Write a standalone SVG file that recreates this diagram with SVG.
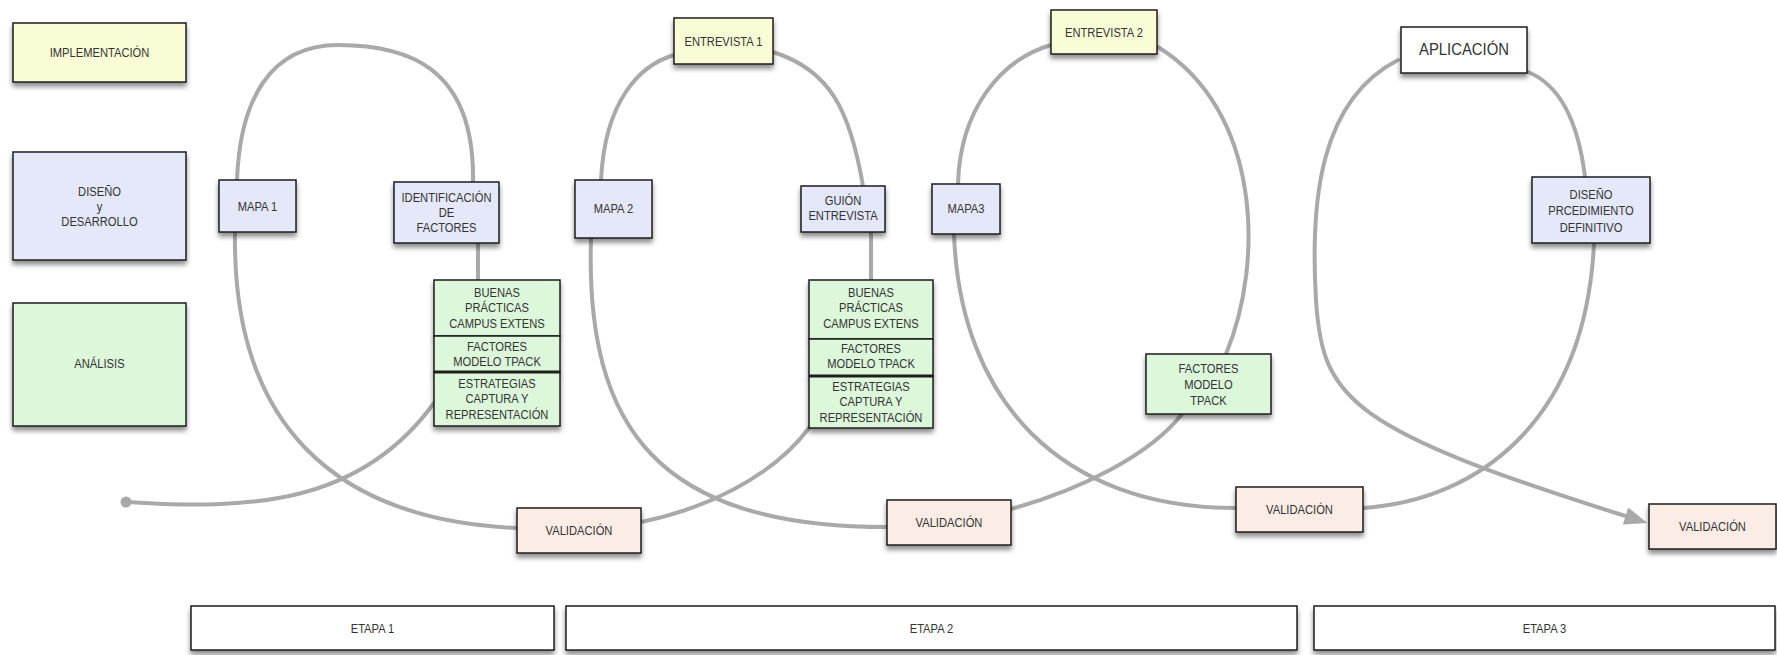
<svg xmlns="http://www.w3.org/2000/svg" width="1777" height="655" viewBox="0 0 1777 655">
  <defs>
    <style>
      .box { stroke: #1e1e1e; stroke-width: 1.5; filter: url(#shadow); }
      .yel { fill: #fafcd6; }
      .lav { fill: #e5e7fa; }
      .grn { fill: #ddf7db; }
      .pch { fill: #fbece5; }
      .wht { fill: #ffffff; }
      .sep { stroke: #1e1e1e; stroke-width: 3; }
      text { font-family: "Liberation Sans", Arial, sans-serif; font-size: 13px; fill: #333333; text-anchor: middle;
             transform-box: fill-box; transform-origin: center; transform: scaleX(0.86); }
      .big { font-size: 16px; transform: scaleX(0.93); }
      .link { fill: none; stroke: #a9a9a9; stroke-width: 4; stroke-linecap: round; }
    </style>
    <filter id="shadow" x="-10%" y="-10%" width="120%" height="150%">
      <feDropShadow dx="0" dy="4" stdDeviation="2.5" flood-color="#000000" flood-opacity="0.45"/>
    </filter>
    <marker id="arrow" markerUnits="userSpaceOnUse" markerWidth="26" markerHeight="20" refX="10" refY="9" orient="auto">
      <path d="M0,0 L23,9 L0,18 z" fill="#a9a9a9"/>
    </marker>
  </defs>

  <rect width="1777" height="655" fill="#ffffff"/>

  <!-- flow lines -->
  <g id="connectors">
    <circle cx="126" cy="502" r="5.5" fill="#a9a9a9"/>
    <path class="link" d="M126,502 C250,510 360,505 434,403"/>
    <path class="link" d="M478,280 L478,243"/>
    <path class="link" d="M473,182 C475,65 405,45 338,45 C270,45 240,100 237,180"/>
    <path class="link" d="M235,232 C232,420 330,520 517,528"/>
    <path class="link" d="M641,522 C700,510 770,480 809,428"/>
    <path class="link" d="M871,280 L871,232"/>
    <path class="link" d="M863,186 C850,110 830,70 773,52"/>
    <path class="link" d="M674,55 C640,65 605,100 601,180"/>
    <path class="link" d="M591,238 C585,430 660,527 887,527"/>
    <path class="link" d="M1011,509 C1080,490 1150,455 1182,414"/>
    <path class="link" d="M1226,354 C1265,260 1260,110 1158,47"/>
    <path class="link" d="M1051,45 C1000,60 960,110 958,184"/>
    <path class="link" d="M954,234 C960,400 1060,508 1236,508"/>
    <path class="link" d="M1363,508 C1480,500 1585,420 1594,244"/>
    <path class="link" d="M1585,177 C1578,120 1560,85 1528,72"/>
    <path class="link" d="M1398,60 C1320,100 1310,200 1316,300 C1322,400 1350,430 1635,519" marker-end="url(#arrow)"/>
  </g>

  <!-- row labels -->
  <g id="implementacion">
    <rect class="box yel" x="13" y="23" width="173" height="59"/>
    <text x="99.5" y="57">IMPLEMENTACIÓN</text>
  </g>
  <g id="diseno-desarrollo">
    <rect class="box lav" x="13" y="152" width="173" height="108"/>
    <text x="99.5" y="196"><tspan x="99.5">DISEÑO</tspan><tspan x="99.5" dy="15">y</tspan><tspan x="99.5" dy="15">DESARROLLO</tspan></text>
  </g>
  <g id="analisis">
    <rect class="box grn" x="13" y="303" width="173" height="123"/>
    <text x="99.5" y="368">ANÁLISIS</text>
  </g>

  <!-- stage 1 -->
  <g id="mapa1">
    <rect class="box lav" x="219" y="180" width="77" height="52"/>
    <text x="257.5" y="211">MAPA 1</text>
  </g>
  <g id="identificacion">
    <rect class="box lav" x="394" y="182" width="105" height="61"/>
    <text x="446.5" y="202"><tspan x="446.5">IDENTIFICACIÓN</tspan><tspan x="446.5" dy="15">DE</tspan><tspan x="446.5" dy="15">FACTORES</tspan></text>
  </g>
  <g id="analisis-1">
    <rect class="box grn" x="434" y="280" width="126" height="56"/>
    <text x="497" y="297"><tspan x="497">BUENAS</tspan><tspan x="497" dy="15.5">PRÁCTICAS</tspan><tspan x="497" dy="15.5">CAMPUS EXTENS</tspan></text>
    <rect class="box grn" x="434" y="336" width="126" height="36"/>
    <text x="497" y="351"><tspan x="497">FACTORES</tspan><tspan x="497" dy="15.5">MODELO TPACK</tspan></text>
    <rect class="box grn" x="434" y="372" width="126" height="54"/>
    <line class="sep" x1="434" y1="372" x2="560" y2="372"/>
    <text x="497" y="388"><tspan x="497">ESTRATEGIAS</tspan><tspan x="497" dy="15.5">CAPTURA Y</tspan><tspan x="497" dy="15.5">REPRESENTACIÓN</tspan></text>
  </g>
  <g id="validacion-1">
    <rect class="box pch" x="517" y="508" width="124" height="45"/>
    <text x="579" y="535">VALIDACIÓN</text>
  </g>

  <!-- stage 2 -->
  <g id="mapa2">
    <rect class="box lav" x="575" y="180" width="77" height="58"/>
    <text x="613.5" y="213">MAPA 2</text>
  </g>
  <g id="entrevista1">
    <rect class="box yel" x="674" y="18" width="99" height="46"/>
    <text x="723.5" y="46">ENTREVISTA 1</text>
  </g>
  <g id="guion">
    <rect class="box lav" x="801" y="186" width="84" height="46"/>
    <text x="843" y="205"><tspan x="843">GUIÓN</tspan><tspan x="843" dy="15.5">ENTREVISTA</tspan></text>
  </g>
  <g id="analisis-2">
    <rect class="box grn" x="809" y="280" width="124" height="59"/>
    <text x="871" y="297"><tspan x="871">BUENAS</tspan><tspan x="871" dy="15.5">PRÁCTICAS</tspan><tspan x="871" dy="15.5">CAMPUS EXTENS</tspan></text>
    <rect class="box grn" x="809" y="339" width="124" height="37"/>
    <text x="871" y="353"><tspan x="871">FACTORES</tspan><tspan x="871" dy="15.5">MODELO TPACK</tspan></text>
    <rect class="box grn" x="809" y="376" width="124" height="52"/>
    <line class="sep" x1="809" y1="376" x2="933" y2="376"/>
    <text x="871" y="391"><tspan x="871">ESTRATEGIAS</tspan><tspan x="871" dy="15.5">CAPTURA Y</tspan><tspan x="871" dy="15.5">REPRESENTACIÓN</tspan></text>
  </g>
  <g id="validacion-2">
    <rect class="box pch" x="887" y="500" width="124" height="45"/>
    <text x="949" y="527">VALIDACIÓN</text>
  </g>
  <g id="mapa3">
    <rect class="box lav" x="932" y="184" width="68" height="50"/>
    <text x="966" y="213">MAPA3</text>
  </g>
  <g id="entrevista2">
    <rect class="box yel" x="1051" y="10" width="106" height="44"/>
    <text x="1104" y="37">ENTREVISTA 2</text>
  </g>
  <g id="factores-tpack">
    <rect class="box grn" x="1146" y="354" width="125" height="60"/>
    <text x="1208.5" y="373"><tspan x="1208.5">FACTORES</tspan><tspan x="1208.5" dy="16">MODELO</tspan><tspan x="1208.5" dy="16">TPACK</tspan></text>
  </g>
  <g id="validacion-3">
    <rect class="box pch" x="1236" y="487" width="127" height="45"/>
    <text x="1299.5" y="514">VALIDACIÓN</text>
  </g>

  <!-- stage 3 -->
  <g id="aplicacion">
    <rect class="box wht" x="1401" y="27" width="126" height="46"/>
    <text class="big" x="1464" y="55">APLICACIÓN</text>
  </g>
  <g id="diseno-procedimiento">
    <rect class="box lav" x="1532" y="177" width="118" height="66"/>
    <text x="1591" y="199"><tspan x="1591">DISEÑO</tspan><tspan x="1591" dy="16.5">PRCEDIMIENTO</tspan><tspan x="1591" dy="16.5">DEFINITIVO</tspan></text>
  </g>
  <g id="validacion-final">
    <rect class="box pch" x="1649" y="504" width="127" height="45"/>
    <text x="1712.5" y="531">VALIDACIÓN</text>
  </g>

  <!-- stage bar -->
  <g id="etapa1">
    <rect class="box wht" x="191" y="606" width="363" height="44"/>
    <text x="372.5" y="633">ETAPA 1</text>
  </g>
  <g id="etapa2">
    <rect class="box wht" x="566" y="606" width="731" height="44"/>
    <text x="931.5" y="633">ETAPA 2</text>
  </g>
  <g id="etapa3">
    <rect class="box wht" x="1314" y="606" width="461" height="44"/>
    <text x="1544.5" y="633">ETAPA 3</text>
  </g>
</svg>
